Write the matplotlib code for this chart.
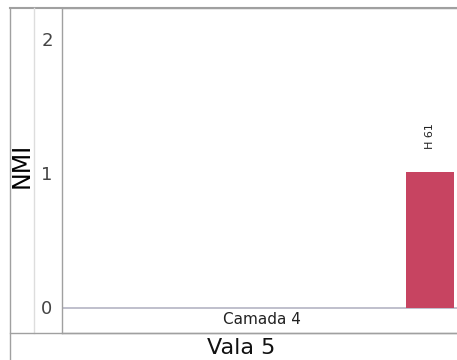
import matplotlib
matplotlib.use('Agg')
import matplotlib.pyplot as plt
from matplotlib.lines import Line2D

# data
samples = ['H 61']
nmi_values = [1.01]
layer_label = 'Camada 4'
trench_label = 'Vala 5'
y_ticks = [0, 1, 2]

W, H = 457, 360
fig = plt.figure(figsize=(W / 100, H / 100), dpi=100)

def fx(px):
    return px / W

def fy(py):
    return 1 - py / H

# axes box: left edge x=62, top y=8, bottom y=333, zero line at y=307.5
ax = fig.add_axes([fx(62), fy(333), fx(W - 62), (333 - 8) / H])

px_per_unit = 134.0
zero_px = 307.5
ax.set_ylim(-(333 - zero_px) / px_per_unit, (zero_px - 8) / px_per_unit)

bar_px = 48
xs = list(range(len(samples)))
ax.set_xlim(-(430 - 62) / bar_px, (W - 430) / bar_px)

ax.bar(xs, nmi_values, width=1.0, color='#c74461', zorder=3)
for x, v, s in zip(xs, nmi_values, samples):
    ax.annotate(s, (x, v), xytext=(0, 17), textcoords='offset points',
                rotation=90, ha='center', va='bottom', fontsize=8, color='#222222')

ax.axhline(0, color='#b4b4c4', lw=1.2, zorder=2)

ax.set_yticks(y_ticks)
ax.set_yticklabels([str(t) for t in y_ticks], fontsize=13, color='#444444')
ax.tick_params(axis='y', length=0, pad=10.8)
for lab in ax.get_yticklabels():
    lab.set_ha('center')
ax.set_xticks([])

ax.spines['right'].set_visible(False)
for side in ['left', 'top', 'bottom']:
    ax.spines[side].set_color('#a0a0a0')
    ax.spines[side].set_linewidth(1.0)

# outer frame lines
fig.add_artist(Line2D([fx(10), fx(W)], [fy(8), fy(8)], color='#a0a0a0', lw=1.5))
fig.add_artist(Line2D([fx(10), fx(10)], [fy(8), fy(H)], color='#a0a0a0', lw=1.0))
fig.add_artist(Line2D([fx(34), fx(34)], [fy(8), fy(333)], color='#dddddd', lw=1.0))
fig.add_artist(Line2D([fx(10), fx(W)], [fy(333), fy(333)], color='#a0a0a0', lw=1.0))

fig.text(fx(262), fy(320), layer_label, ha='center', va='center', fontsize=11, color='#222222')
fig.text(fx(241), fy(348), trench_label, ha='center', va='center', fontsize=16, color='#111111')
fig.text(fx(22), fy(165), 'NMI', ha='center', va='center', rotation=90, fontsize=17, color='#000000')

fig.savefig('out.png', dpi=100)
